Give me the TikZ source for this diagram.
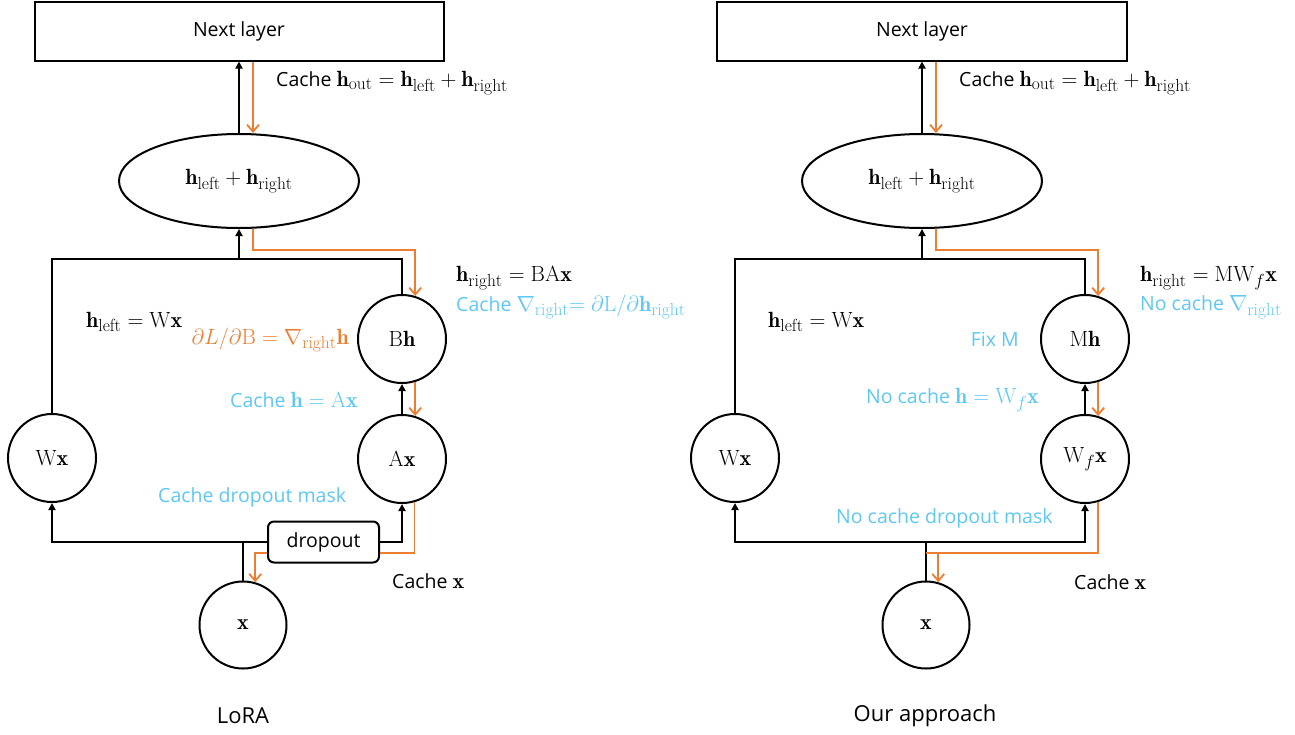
\documentclass[tikz,border=0pt]{standalone}
\usepackage{fix-cm}
\usepackage{amsmath}
\usepackage{fontspec}
\setsansfont{Open Sans}
\renewcommand{\familydefault}{\sfdefault}
\usetikzlibrary{arrows.meta,shapes.geometric}
\DeclareMathSizes{22}{22}{17.5}{13}
\definecolor{org}{HTML}{ED7D31}
\definecolor{lblue}{HTML}{5DC7F5}
\newcommand{\mth}[1]{{\fontsize{22}{26}\selectfont$#1$}}
\tikzset{
  circ/.style={circle, draw, line width=2pt, minimum size=88pt, inner sep=0pt, font=\fontsize{19.5}{23}\selectfont},
  boxn/.style={rectangle, draw, line width=2pt, inner sep=0pt, font=\fontsize{19.5}{23}\selectfont},
  blk/.style={line width=2pt},
  blkarr/.style={line width=2pt, -{Triangle[length=7pt,width=7pt]}},
  orgline/.style={draw=org, line width=1.8pt},
  orgarr/.style={draw=org, line width=1.8pt, -{Straight Barb[length=7pt,width=12pt]}},
  lab/.style={inner sep=0pt, font=\fontsize{19.5}{23}\selectfont},
  blab/.style={lab, text=lblue},
  olab/.style={lab, text=org},
  title/.style={inner sep=0pt, font=\fontsize{22}{26}\selectfont},
}
\begin{document}
\begin{tikzpicture}[x=1pt,y=-1pt]
\useasboundingbox (0,0) rectangle (1295,734);
% ---------------- LoRA (left) ----------------
\node[boxn, minimum width=409pt, minimum height=59pt] (nl) at (239,31) {Next layer};
\node[ellipse, draw, line width=2pt, minimum width=240pt, minimum height=94pt, inner sep=0pt] (sum) at (239,181) {\mth{\mathbf{h}_{\mathrm{left}}+\mathbf{h}_{\mathrm{right}}}};
\node[circ] (Bh) at (402,339) {\mth{\mathrm{B}\mathbf{h}}};
\node[circ] (Ax) at (402,459) {\mth{\mathrm{A}\mathbf{x}}};
\node[circ] (Wx) at (52,458) {\mth{\mathrm{W}\mathbf{x}}};
\node[circ, minimum size=87pt] (xn) at (243,625) {\mth{\mathbf{x}}};
\node[boxn, rounded corners=6pt, minimum width=111pt, minimum height=41pt] (drop) at (323.5,542) {dropout};
\coordinate (jt) at (239,259);
\coordinate (jb) at (243,542);

\draw[blkarr] (sum.north) -- (sum.north |- nl.south);
\draw[orgarr] ([xshift=14pt]nl.south) -- ([xshift=14pt]sum.north);
\draw[blk] (Wx.north) |- (jt) -| (Bh.north);
\draw[blkarr] (jt) -- (sum.south);
\draw[orgarr] ([xshift=14pt]sum.south) -- ++(0,21) -| (Bh.73);
\draw[blkarr] (Ax.north) -- (Bh.south);
\draw[orgarr] (Bh.-73) -- (Ax.73);
\draw[blk] (xn.north) -- (jb);
\draw[blkarr] (drop.west) -| (Wx.south);
\draw[blkarr] (drop.east) -| (Ax.south);
\draw[orgline] (Ax.-74) |- ([yshift=-11pt]drop.east);
\draw[orgarr] ([yshift=-11pt]drop.west) -| (xn.74);

\node[lab, anchor=west] (l1) at (276,83) {Cache \mth{\mathbf{h}_{\mathrm{out}}=\mathbf{h}_{\mathrm{left}}+\mathbf{h}_{\mathrm{right}}}};
\node[lab, anchor=west] (l2) at (456,278) {\mth{\mathbf{h}_{\mathrm{right}}=\mathrm{BA}\mathbf{x}}};
\node[blab, anchor=west] (l3) at (456,307) {Cache \mth{\nabla_{\mathrm{right}}\mathord{=}\;\partial\mathrm{L}/\partial\mathbf{h}_{\mathrm{right}}}};
\node[lab, anchor=west] (l4) at (86,322) {\mth{\mathbf{h}_{\mathrm{left}}=\mathrm{W}\mathbf{x}}};
\node[olab, anchor=east] (l5) at (349,340) {\mth{\partial L/\partial\mathrm{B}=\nabla_{\mathrm{right}}\mathbf{h}}};
\node[blab, anchor=east] (l6) at (358,400) {Cache \mth{\mathbf{h}=\mathrm{A}\mathbf{x}}};
\node[blab, anchor=west] (l7) at (158,497) {Cache dropout mask};
\node[lab, anchor=west] (l8) at (392,581) {Cache \mth{\mathbf{x}}};
\node[title] (t1) at (243,716) {LoRA};

% ---------------- Our approach (right) ----------------
\node[boxn, minimum width=410pt, minimum height=59pt] (nlb) at (922,31) {Next layer};
\node[ellipse, draw, line width=2pt, minimum width=240pt, minimum height=94pt, inner sep=0pt] (sumb) at (922,181) {\mth{\mathbf{h}_{\mathrm{left}}+\mathbf{h}_{\mathrm{right}}}};
\node[circ] (Mh) at (1085,339) {\mth{\mathrm{M}\mathbf{h}}};
\node[circ] (Wfx) at (1085,459) {\mth{\mathrm{W}_{f}\mathbf{x}}};
\node[circ] (Wxb) at (735,458) {\mth{\mathrm{W}\mathbf{x}}};
\node[circ, minimum size=87pt] (xb) at (926,625) {\mth{\mathbf{x}}};
\coordinate (jtb) at (922,259);
\coordinate (jbb) at (926,542);

\draw[blkarr] (sumb.north) -- (sumb.north |- nlb.south);
\draw[orgarr] ([xshift=14pt]nlb.south) -- ([xshift=14pt]sumb.north);
\draw[blk] (Wxb.north) |- (jtb) -| (Mh.north);
\draw[blkarr] (jtb) -- (sumb.south);
\draw[orgarr] ([xshift=14pt]sumb.south) -- ++(0,21) -| (Mh.73);
\draw[blkarr] (Wfx.north) -- (Mh.south);
\draw[orgarr] (Mh.-73) -- (Wfx.73);
\draw[blk] (xb.north) -- (jbb);
\draw[blkarr] (jbb) -| (Wxb.south);
\draw[blkarr] (jbb) -| (Wfx.south);
\draw[orgarr] (Wfx.-73) |- ([yshift=-11pt]jbb) -| (xb.74);

\node[lab, anchor=west] (r1) at (959,83) {Cache \mth{\mathbf{h}_{\mathrm{out}}=\mathbf{h}_{\mathrm{left}}+\mathbf{h}_{\mathrm{right}}}};
\node[lab, anchor=west] (r2) at (1140,278) {\mth{\mathbf{h}_{\mathrm{right}}=\mathrm{MW}_{f}\mathbf{x}}};
\node[blab, anchor=west] (r3) at (1140,307) {No cache \mth{\nabla_{\mathrm{right}}}};
\node[lab, anchor=west] (r4) at (768,322) {\mth{\mathbf{h}_{\mathrm{left}}=\mathrm{W}\mathbf{x}}};
\node[blab, anchor=east] (r5) at (1019,339) {Fix M};
\node[blab, anchor=east] (r6) at (1039,400) {No cache \mth{\mathbf{h}=\mathrm{W}_{f}\mathbf{x}}};
\node[blab, anchor=west] (r7) at (836,518) {No cache dropout mask};
\node[lab, anchor=west] (r8) at (1074,582) {Cache \mth{\mathbf{x}}};
\node[title] (t2) at (925,716) {Our approach};
\end{tikzpicture}
\end{document}
